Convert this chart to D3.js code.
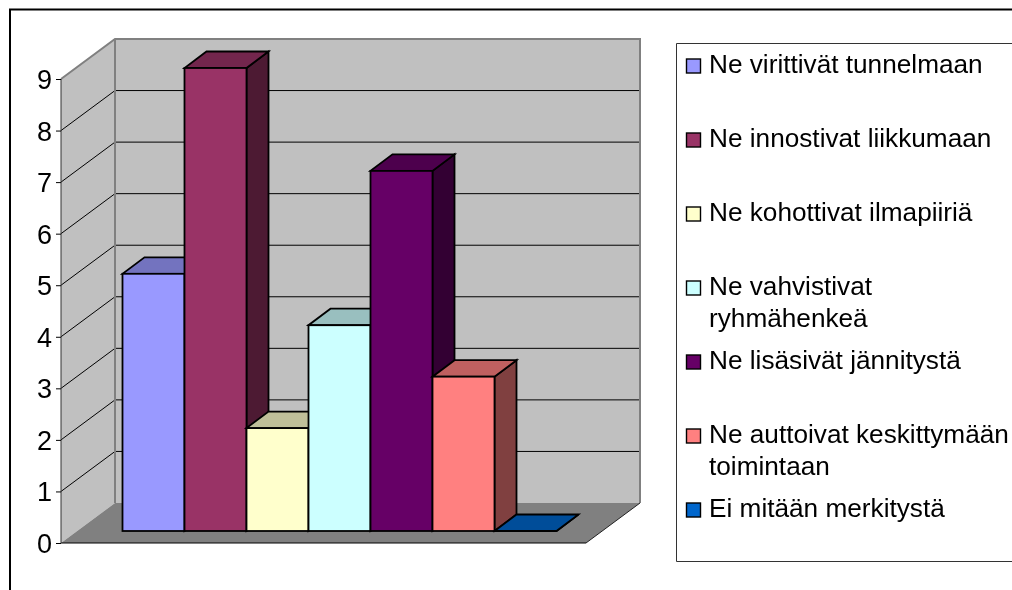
<!DOCTYPE html>
<html><head><meta charset="utf-8">
<script src="https://cdn.jsdelivr.net/npm/d3@7"></script>
<style>html,body{margin:0;padding:0;background:#fff;overflow:hidden}svg{display:block;filter:blur(0.35px)}text{font-family:"Liberation Sans",Arial,sans-serif;fill:#000}</style>
</head><body>
<svg id="c" width="1012" height="590"></svg>
<script>
const categories = ["Ne virittivät tunnelmaan","Ne innostivat liikkumaan","Ne kohottivat ilmapiiriä","Ne vahvistivat ryhmähenkeä","Ne lisäsivät jännitystä","Ne auttoivat keskittymään toimintaan","Ei mitään merkitystä"];
const values = [5,9,2,4,7,3,0];
const colors = ["#9999FF","#993366","#FFFFCC","#CCFFFF","#660066","#FF8080","#0066CC"];
const tickValues = [0,1,2,3,4,5,6,7,8,9];
const legendLines = [["Ne virittivät tunnelmaan"],["Ne innostivat liikkumaan"],["Ne kohottivat ilmapiiriä"],["Ne vahvistivat","ryhmähenkeä"],["Ne lisäsivät jännitystä"],["Ne auttoivat keskittymään","toimintaan"],["Ei mitään merkitystä"]];

const svg = d3.select("#c");
const W = 1012, H = 590;
// frame
svg.append("path").attr("d",`M${W+2},9.5H10V${H+2}`).attr("fill","none").attr("stroke","#000").attr("stroke-width",2);

const y = d3.scaleLinear().domain([0,9]).range([543,79]);
const yBar = d3.scaleLinear().domain([0,9]).range([531,68]);
const x0 = 61, x1 = 586, wallDx = 54, wallDy = -40;
const barDx = 22, barDy = -16.5;
const x = d3.scaleBand().domain(categories).range([122.5,556.5]);
const line = d3.line();
const poly = pts => line(pts)+"Z";

const g = svg.append("g");
// walls
g.append("path").attr("d",poly([[x0,y(0)],[x0,y(9)],[x0+wallDx,y(9)+wallDy],[x0+wallDx,y(0)+wallDy]])).attr("fill","#C0C0C0");
g.append("path").attr("d",poly([[x0+wallDx,y(0)+wallDy],[x0+wallDx,y(9)+wallDy],[x1+wallDx,y(9)+wallDy],[x1+wallDx,y(0)+wallDy]])).attr("fill","#C0C0C0");
g.append("path").attr("d",poly([[x0,y(0)],[x1,y(0)],[x1+wallDx,y(0)+wallDy],[x0+wallDx,y(0)+wallDy]])).attr("fill","#808080");
// gridlines
tickValues.filter(v=>v>0&&v<9).forEach(v=>{
  g.append("path").attr("d",line([[x0,y(v)],[x0+wallDx,y(v)+wallDy],[x1+wallDx,y(v)+wallDy]])).attr("fill","none").attr("stroke","#000").attr("stroke-width",1);
});
// wall edges
g.append("path").attr("d",line([[x0,y(9)],[x0+wallDx,y(9)+wallDy],[x1+wallDx,y(9)+wallDy],[x1+wallDx,y(0)+wallDy]])).attr("fill","none").attr("stroke","#808080").attr("stroke-width",2);
g.append("path").attr("d",line([[x0+wallDx,y(9)+wallDy],[x0+wallDx,y(0)+wallDy]])).attr("fill","none").attr("stroke","#808080").attr("stroke-width",2);
g.append("path").attr("d",line([[x1,y(0)],[x1+wallDx,y(0)+wallDy]])).attr("fill","none").attr("stroke","#222").attr("stroke-width",1);
g.append("path").attr("d",line([[x0,y(0)],[x1,y(0)]])).attr("fill","none").attr("stroke","#000").attr("stroke-width",1.2);

// axis
const axis = d3.axisLeft(y).tickValues(tickValues).tickSize(5).tickPadding(4).tickFormat(d3.format("d"));
const ag = svg.append("g").attr("transform",`translate(${x0},0)`).call(axis);
ag.select(".domain").attr("stroke","#333").attr("d",`M0,${y(9)}V${y(0)}`);
ag.selectAll("text").attr("font-size",27).attr("dy","0.35em");

// bars
const shade = (c,k)=>{const q=d3.rgb(c);return d3.rgb(q.r*k,q.g*k,q.b*k).formatHex();};
const barsG = svg.append("g").attr("stroke","#000").attr("stroke-width",1.8).attr("stroke-linejoin","miter");
categories.forEach((c,i)=>{
  const l = x(c), r = l + x.bandwidth(), b = yBar(0), t = yBar(values[i]);
  barsG.append("path").attr("d",poly([[r,b],[r,t],[r+barDx,t+barDy],[r+barDx,b+barDy]])).attr("fill",shade(colors[i],0.5));
  barsG.append("path").attr("d",poly([[l,t],[r,t],[r+barDx,t+barDy],[l+barDx,t+barDy]])).attr("fill",shade(colors[i],0.75));
  if(values[i]>0) barsG.append("rect").attr("x",l).attr("y",t).attr("width",x.bandwidth()).attr("height",b-t).attr("fill",colors[i]);
});

// legend
const lg = svg.append("g");
lg.append("path").attr("d",`M${W+2},43.5H676.5V561.5H${W+2}`).attr("fill","#fff").attr("stroke","#333").attr("stroke-width",1);
const legendBase = d3.scalePoint().domain(categories).range([73,517]);
const lineH = 32;
categories.forEach((c,i)=>{
  const by = legendBase(c);
  lg.append("rect").attr("x",686.5).attr("y",by-14).attr("width",14).attr("height",14).attr("fill",colors[i]).attr("stroke","#000").attr("stroke-width",1.4);
  legendLines[i].forEach((t,j)=>{
    lg.append("text").attr("x",709).attr("y",by+j*lineH).attr("font-size",26.2).text(t);
  });
});
</script>
</body></html>
